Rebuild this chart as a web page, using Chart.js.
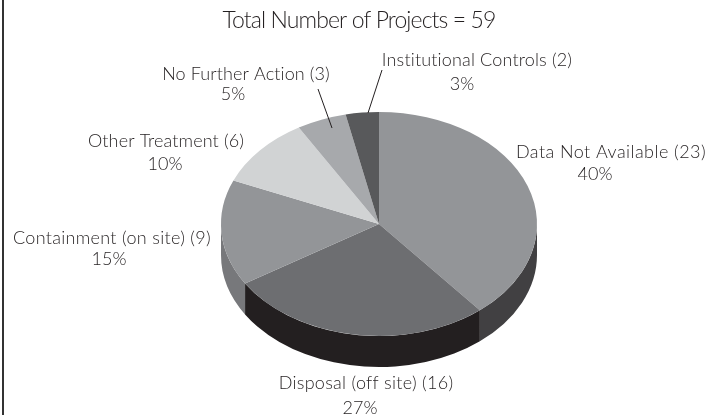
<!DOCTYPE html>
<html><head><meta charset="utf-8">
<style>html,body{margin:0;padding:0;background:#fff}#w{width:708px;height:415px}</style>
<script src="https://cdn.jsdelivr.net/npm/chart.js@4"></script>
</head><body><div id="w"><canvas id="c" width="708" height="415"></canvas></div>
<script>
const categories = ["Data Not Available","Disposal (off site)","Containment (on site)","Other Treatment","No Further Action","Institutional Controls"];
const projectCounts = [23,16,9,6,3,2];
const percentLabels = ["40%","27%","15%","10%","5%","3%"];
const titleText = "Total Number of Projects = 59";
const topColors = ["#939598","#6d6e71","#939598","#d1d3d4","#a7a9ac","#58595b"];
const wallColors = ["#414042","#231f20","#77787b","#77787b","#77787b","#77787b"];
// label layout: name centre x, name centre y, name width, percent centre x, percent centre y
const labelPos = [[611,152,190,595,174],[366,383,174,360,408],[112,238,198,109,259],[166,141,156,165,164],[246,74,168,233,94],[477,60,191,462,84]];
const leaders = [[318,89,332,128],[382,70,368,113]];
const FONT = '"Lato", sans-serif';
const SQUASH = 0.709, DEPTH = 31;

function fitText(ctx,text,x,y,width){
  ctx.letterSpacing='0px';
  const natural=ctx.measureText(text).width;
  ctx.letterSpacing=((width-natural)/text.length).toFixed(3)+'px';
  ctx.fillText(text,x,y);
  ctx.letterSpacing='0px';
}
const pie3d = {
  id:'pie3d',
  beforeDatasetsDraw(chart){
    const ctx = chart.ctx, arcs = chart.getDatasetMeta(0).data;
    arcs.forEach((a,i)=>{
      const s = Math.max(a.startAngle,0), e = Math.min(a.endAngle,Math.PI);
      const ry = a.outerRadius*SQUASH;
      if (e>s){
        ctx.beginPath();
        ctx.ellipse(a.x,a.y+DEPTH,a.outerRadius,ry,0,s,e);
        ctx.ellipse(a.x,a.y,a.outerRadius,ry,0,e,s,true);
        ctx.closePath();
        ctx.fillStyle = wallColors[i]; ctx.fill();
      }
    });
    const a0 = arcs[0];
    ctx.save();
    ctx.translate(a0.x,a0.y); ctx.scale(1,SQUASH); ctx.translate(-a0.x,-a0.y);
  },
  afterDatasetsDraw(chart){ chart.ctx.restore(); },
  afterDraw(chart){
    const ctx = chart.ctx;
    ctx.save();
    ctx.fillStyle='#333333'; ctx.fillRect(2,0,2,415);
    ctx.strokeStyle='#231f20'; ctx.lineWidth=1;
    leaders.forEach(l=>{ctx.beginPath();ctx.moveTo(l[0],l[1]);ctx.lineTo(l[2],l[3]);ctx.stroke();});
    ctx.fillStyle='#231f20'; ctx.textAlign='center'; ctx.textBaseline='middle';
    ctx.font='300 23px '+FONT;
    fitText(ctx,titleText,359,21,273);
    ctx.font='300 18px '+FONT;
    categories.forEach((c,i)=>{
      const p=labelPos[i];
      fitText(ctx,c+' ('+projectCounts[i]+')',p[0],p[1],p[2]);
      ctx.fillText(percentLabels[i],p[3],p[4]);
    });
    ctx.restore();
  }
};
new Chart(document.getElementById('c'),{
  type:'pie',
  data:{labels:categories,datasets:[{data:projectCounts,backgroundColor:topColors,borderWidth:0,clip:false}]},
  options:{responsive:false,animation:false,
    layout:{padding:{left:221,right:171,top:66,bottom:33}},
    plugins:{legend:{display:false},tooltip:{enabled:false},title:{display:false}}},
  plugins:[pie3d]
});
</script></body></html>
